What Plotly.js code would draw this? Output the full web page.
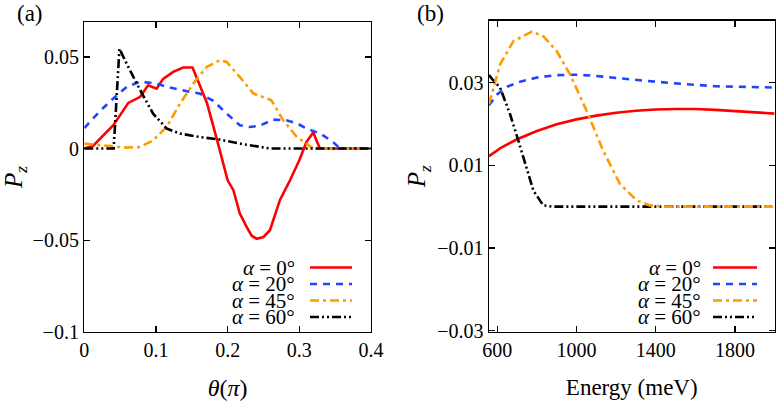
<!DOCTYPE html>
<html><head><meta charset="utf-8">
<script src="https://cdn.plot.ly/plotly-3.0.1.min.js"></script>
<style>
body{margin:0;padding:0;background:#fff}
#chart{width:776px;height:402px}
#chart svg text, #chart svg tspan{font-family:"Liberation Serif" !important;}
</style>
</head><body>
<div id="chart"></div>
<script>
// ---- Panel (a): Pz vs theta (units of pi) ----
const thetaA0 = [0, 0.0125, 0.0405, 0.0614, 0.078, 0.089, 0.101, 0.11, 0.124, 0.138, 0.151, 0.171, 0.185, 0.2, 0.208, 0.217, 0.2265, 0.2335, 0.2405, 0.25, 0.259, 0.273, 0.287, 0.3, 0.31, 0.3194, 0.3287, 0.4];
const pzA0    = [0, 0.0016, 0.0127, 0.0249, 0.0282, 0.0345, 0.0327, 0.038, 0.0418, 0.0442, 0.0442, 0.025, 0.005, -0.0173, -0.0227, -0.0354, -0.0427, -0.0475, -0.0492, -0.0482, -0.0445, -0.028, -0.0173, -0.0064, 0.0036, 0.0087, 0, 0];
const thetaA20 = [0, 0.022, 0.0405, 0.059, 0.078, 0.09, 0.101, 0.115, 0.1335, 0.147, 0.161, 0.18, 0.1986, 0.217, 0.231, 0.245, 0.2636, 0.282, 0.298, 0.31, 0.329, 0.347, 0.357, 0.4];
const pzA20    = [0.0112, 0.0205, 0.0273, 0.0336, 0.0365, 0.036, 0.0354, 0.0336, 0.0318, 0.0309, 0.030, 0.026, 0.0191, 0.0127, 0.0118, 0.0125, 0.0158, 0.0154, 0.0135, 0.0109, 0.0082, 0.0036, 0, 0];
const thetaA45 = [0, 0.0265, 0.059, 0.078, 0.096, 0.115, 0.1335, 0.152, 0.1707, 0.189, 0.1986, 0.217, 0.236, 0.2545, 0.261, 0.2776, 0.2965, 0.31, 0.319, 0.4];
const pzA45    = [0.0027, 0.0018, 0.0005, 0.0009, 0.0045, 0.0118, 0.0245, 0.0354, 0.0445, 0.0481, 0.0472, 0.039, 0.030, 0.0273, 0.0263, 0.0154, 0.0063, 0.0027, 0, 0];
const thetaA60 = [0, 0.041, 0.049, 0.059, 0.078, 0.096, 0.115, 0.1335, 0.161, 0.189, 0.217, 0.245, 0.26, 0.4];
const pzA60    = [0, 0, 0.0545, 0.0463, 0.0318, 0.019, 0.0109, 0.0082, 0.0063, 0.0049, 0.0027, 0.0009, 0, 0];

// ---- Panel (b): Pz vs energy (meV) ----
const energyB0 = [558, 620, 700, 800, 900, 1000, 1100, 1200, 1300, 1400, 1500, 1600, 1700, 1800, 1900, 2000];
const pzB0     = [0.0122, 0.0143, 0.0163, 0.0183, 0.0199, 0.0211, 0.022, 0.0227, 0.0232, 0.0235, 0.0236, 0.0236, 0.0234, 0.0231, 0.0228, 0.0225];
const energyB20 = [558, 600, 650, 715, 800, 900, 1000, 1100, 1200, 1300, 1400, 1500, 1600, 1700, 1800, 1900, 2000];
const pzB20     = [0.0245, 0.0272, 0.029, 0.0302, 0.0312, 0.0318, 0.0319, 0.0316, 0.0311, 0.0306, 0.0302, 0.0298, 0.0294, 0.0291, 0.029, 0.0289, 0.0288];
const energyB45 = [558, 614, 681, 774, 832, 900, 967, 1051, 1135, 1219, 1304, 1371, 1450, 2000];
const pzB45     = [0.0248, 0.0344, 0.040, 0.0423, 0.0412, 0.0376, 0.032, 0.0232, 0.0135, 0.0055, 0.0015, 0.0003, 0, 0];
const energyB60 = [558, 580, 614, 664, 706, 748, 782, 832, 883, 2000];
const pzB60     = [0.0318, 0.0305, 0.0288, 0.0224, 0.016, 0.0095, 0.0039, 0.0003, 0, 0];

// ---- Ticks and labels ----
const tickValsAX = [0, 0.1, 0.2, 0.3, 0.4];
const tickTextAX = ["0", "0.1", "0.2", "0.3", "0.4"];
const tickValsAY = [-0.1, -0.05, 0, 0.05];
const tickTextAY = ["\u22120.1", "\u22120.05", "0", "0.05"];
const tickValsBX = [600, 1000, 1400, 1800];
const tickTextBX = ["600", "1000", "1400", "1800"];
const tickValsBY = [-0.03, -0.01, 0.01, 0.03];
const tickTextBY = ["\u22120.03", "\u22120.01", "0.01", "0.03"];
const seriesNames = ["<i>α</i> = 0°", "<i>α</i> = 20°", "<i>α</i> = 45°", "<i>α</i> = 60°"];

const colors = ["#ff0000", "#2244ff", "#ff9a00", "#000000"];
const dashes = ["solid", "7px,6px", "9px,4px,3px,4px", "9px,3px,2px,3px,2px,3px"];
const W = 776, H = 402;
const FONT = "Liberation Serif";

function lineTrace(x, y, i, xa, ya) {
  return {x: x, y: y, type: "scatter", mode: "lines", xaxis: xa, yaxis: ya, showlegend: false,
    line: {color: colors[i], width: 2.6, dash: dashes[i]}, hoverinfo: "skip"};
}
const traces = [
  lineTrace(thetaA0, pzA0, 0, "x", "y"),
  lineTrace(thetaA20, pzA20, 1, "x", "y"),
  lineTrace(thetaA45, pzA45, 2, "x", "y"),
  lineTrace(thetaA60, pzA60, 3, "x", "y"),
  lineTrace(energyB0, pzB0, 0, "x2", "y2"),
  lineTrace(energyB20, pzB20, 1, "x2", "y2"),
  lineTrace(energyB60, pzB60, 3, "x2", "y2"),
  lineTrace(energyB45, pzB45, 2, "x2", "y2")
];

const axCommon = {showline: true, linecolor: "#000", linewidth: 1.4, mirror: "ticks", ticks: "inside",
  ticklen: 6, tickwidth: 1.4, tickcolor: "#000", showgrid: false, zeroline: false,
  tickfont: {family: FONT, size: 20, color: "#000"}, tickmode: "array", fixedrange: true};

const px = v => v / W, py = v => 1 - v / H;

const annotations = [];
const shapes = [];
const legendRows = [267.5, 284, 300.5, 317];
const legendSpecs = [{textRight: 297, x0: 310, x1: 352}, {textRight: 703, x0: 713, x1: 757}];
legendSpecs.forEach(spec => {
  seriesNames.forEach((name, i) => {
    annotations.push({xref: "paper", yref: "paper", x: px(spec.textRight), y: py(legendRows[i]),
      xanchor: "right", yanchor: "middle", showarrow: false, text: name,
      font: {family: FONT, size: 21, color: "#000"}});
    shapes.push({type: "line", xref: "paper", yref: "paper", x0: px(spec.x0), x1: px(spec.x1),
      y0: py(legendRows[i]), y1: py(legendRows[i]), line: {color: colors[i], width: 2.6, dash: dashes[i]}});
  });
});
annotations.push({xref: "paper", yref: "paper", x: px(30), y: py(14), xanchor: "center", yanchor: "middle",
  showarrow: false, text: "(a)", font: {family: FONT, size: 23, color: "#000"}});
annotations.push({xref: "paper", yref: "paper", x: px(430), y: py(14), xanchor: "center", yanchor: "middle",
  showarrow: false, text: "(b)", font: {family: FONT, size: 23, color: "#000"}});

const layout = {
  width: W, height: H, margin: {l: 0, r: 0, t: 0, b: 0},
  paper_bgcolor: "#fff", plot_bgcolor: "#fff", showlegend: false,
  xaxis: Object.assign({}, axCommon, {domain: [px(84.3), px(371)], range: [0, 0.4],
    tickvals: tickValsAX, ticktext: tickTextAX, anchor: "y",
    title: {text: "<i>θ</i>(<i>π</i>)", standoff: 18, font: {family: FONT, size: 24, color: "#000"}}}),
  yaxis: Object.assign({}, axCommon, {domain: [1 - 332 / H, 1 - 22 / H], range: [-0.1, 0.069],
    tickvals: tickValsAY, ticktext: tickTextAY, anchor: "x",
    title: {text: "<i>P<sub>z</sub></i>", standoff: 4, font: {family: FONT, size: 25, color: "#000"}}}),
  xaxis2: Object.assign({}, axCommon, {domain: [px(489), px(774.5)], range: [558, 2000],
    tickvals: tickValsBX, ticktext: tickTextBX, anchor: "y2",
    title: {text: "Energy (meV)", standoff: 18, font: {family: FONT, size: 23, color: "#000"}}}),
  yaxis2: Object.assign({}, axCommon, {domain: [1 - 332 / H, 1 - 20.5 / H], range: [-0.0303, 0.045],
    tickvals: tickValsBY, ticktext: tickTextBY, anchor: "x2",
    title: {text: "<i>P<sub>z</sub></i>", standoff: 4, font: {family: FONT, size: 25, color: "#000"}}}),
  annotations: annotations, shapes: shapes
};
Plotly.newPlot("chart", traces, layout, {displayModeBar: false, staticPlot: true});
</script></body></html>
